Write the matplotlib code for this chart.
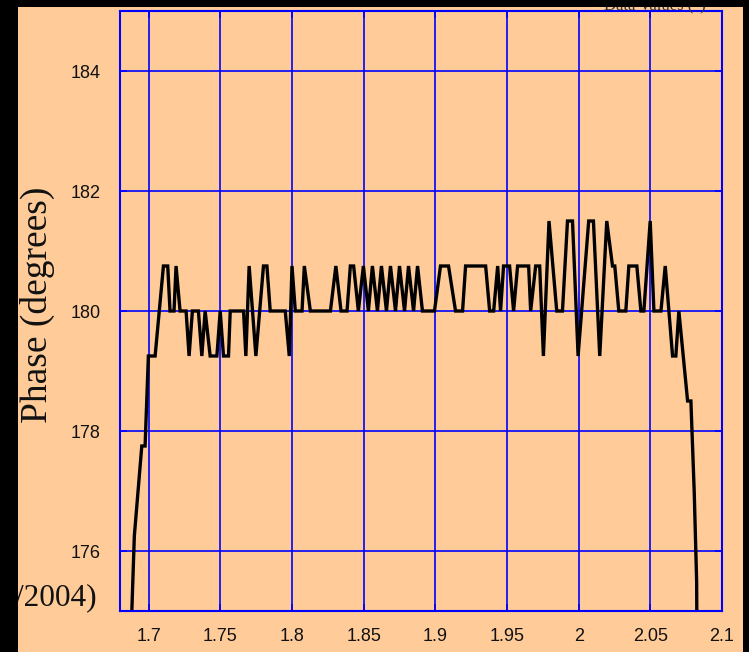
import matplotlib
matplotlib.use('Agg')
import matplotlib.pyplot as plt
from matplotlib.patches import Rectangle

# Phase sweep
freq = [1.6877, 1.6900, 1.6952, 1.6975, 1.6998, 1.7045, 1.7103, 1.7133, 1.7149, 1.7177,
        1.7191, 1.7219, 1.7261, 1.7282, 1.7305, 1.7347, 1.7371, 1.7394, 1.7429, 1.7476,
        1.7499, 1.7522, 1.7557, 1.7569, 1.7662, 1.7678, 1.7701, 1.7748, 1.7801, 1.7825,
        1.7848, 1.7953, 1.7981, 1.8000, 1.8023, 1.8070, 1.8086, 1.8128, 1.8268, 1.8306,
        1.8342, 1.8384, 1.8407, 1.8430, 1.8463, 1.8498, 1.8533, 1.8561, 1.8596, 1.8624,
        1.8659, 1.8687, 1.8722, 1.8750, 1.8785, 1.8813, 1.8848, 1.8876, 1.8910, 1.8994,
        1.9036, 1.9092, 1.9141, 1.9190, 1.9211, 1.9351, 1.9379, 1.9407, 1.9435, 1.9455,
        1.9476, 1.9518, 1.9546, 1.9574, 1.9651, 1.9665, 1.9700, 1.9728, 1.9754, 1.9793,
        1.9847, 1.9887, 1.9922, 1.9957, 1.9996, 2.0070, 2.0103, 2.0147, 2.0196, 2.0236,
        2.0252, 2.0280, 2.0329, 2.0350, 2.0406, 2.0434, 2.0455, 2.0499, 2.0525, 2.0574,
        2.0604, 2.0655, 2.0678, 2.0699, 2.0760, 2.0783, 2.0806, 2.0823, 2.0829]
phase = [174.6, 176.25, 177.75, 177.75, 179.25, 179.25, 180.75, 180.75, 180, 180,
         180.75, 180, 180, 179.25, 180, 180, 179.25, 180, 179.25, 179.25,
         180, 179.25, 179.25, 180, 180, 179.25, 180.75, 179.25, 180.75, 180.75,
         180, 180, 179.25, 180.75, 180, 180, 180.75, 180, 180, 180.75,
         180, 180, 180.75, 180.75, 180, 180.75, 180, 180.75, 180, 180.75,
         180, 180.75, 180, 180.75, 180, 180.75, 180, 180.75, 180, 180,
         180.75, 180.75, 180, 180, 180.75, 180.75, 180, 180, 180.75, 180,
         180.75, 180.75, 180, 180.75, 180.75, 180, 180.75, 180.75, 179.25, 181.5,
         180, 180, 181.5, 181.5, 179.25, 181.5, 181.5, 179.25, 181.5, 180.75,
         180.75, 180, 180, 180.75, 180.75, 180, 180, 181.5, 180, 180,
         180.75, 179.25, 179.25, 180, 178.5, 178.5, 177.0, 175.5, 173.0]

xticks = [1.7, 1.75, 1.8, 1.85, 1.9, 1.95, 2.0, 2.05, 2.1]
xticklabels = ['1.7', '1.75', '1.8', '1.85', '1.9', '1.95', '2', '2.05', '2.1']
yticks = [176, 178, 180, 182, 184]

W, H = 749, 652
bg = '#FFCC99'
blue = '#0000FF'

fig = plt.figure(figsize=(W / 100, H / 100), dpi=100)
fig.patch.set_facecolor('black')
fig.patches.append(Rectangle((18 / W, 0), (743 - 18) / W, (H - 7) / H,
                             transform=fig.transFigure, facecolor=bg,
                             edgecolor='none', zorder=-10))

ax = fig.add_axes([120 / W, 41 / H, 602 / W, 600 / H])
ax.set_facecolor(bg)
ax.plot(freq, phase, color='black', lw=2.4, solid_joinstyle='miter')

ax.set_xlim(1.68, 2.1)
ax.set_ylim(175, 185)
ax.set_xticks(xticks)
ax.set_xticklabels(xticklabels)
ax.set_yticks(yticks)
ax.grid(True, color=blue, lw=1.2)
ax.set_axisbelow(True)
for s in ax.spines.values():
    s.set_color(blue)
    s.set_linewidth(1.5)
ax.tick_params(direction='in', length=5, color=blue, width=1.2,
               top=True, right=True, labelsize=13, labelcolor='#111111')
ax.tick_params(axis='y', pad=14)
ax.tick_params(axis='x', pad=12)
for lbl in ax.get_xticklabels() + ax.get_yticklabels():
    lbl.set_fontfamily('Liberation Sans')

fig.text(37 / W, 1 - 305 / H, 'Phase (degrees)', rotation=90, ha='center',
         va='center', fontsize=27, family='Liberation Serif', color='#111111')
fig.text(97 / W, 1 - 598 / H, '/2004)', ha='right', va='center',
         fontsize=22.5, family='Liberation Serif', color='#111111', zorder=1)
fig.text(655 / W, 1 - 9 / H, 'Data Values (°)', ha='center', va='baseline',
         fontsize=12, family='Liberation Serif', color='#333333', zorder=1)

# black frame strips drawn over the edge texts
fig.patches.append(Rectangle((0, 0), 18 / W, 1, transform=fig.transFigure,
                             facecolor='black', edgecolor='none', zorder=10))
fig.patches.append(Rectangle((0, 1 - 7 / H), 1, 7 / H, transform=fig.transFigure,
                             facecolor='black', edgecolor='none', zorder=10))
fig.patches.append(Rectangle((743 / W, 0), 6 / W, 1, transform=fig.transFigure,
                             facecolor='black', edgecolor='none', zorder=10))

fig.savefig('out.png', dpi=100, facecolor=fig.get_facecolor())
